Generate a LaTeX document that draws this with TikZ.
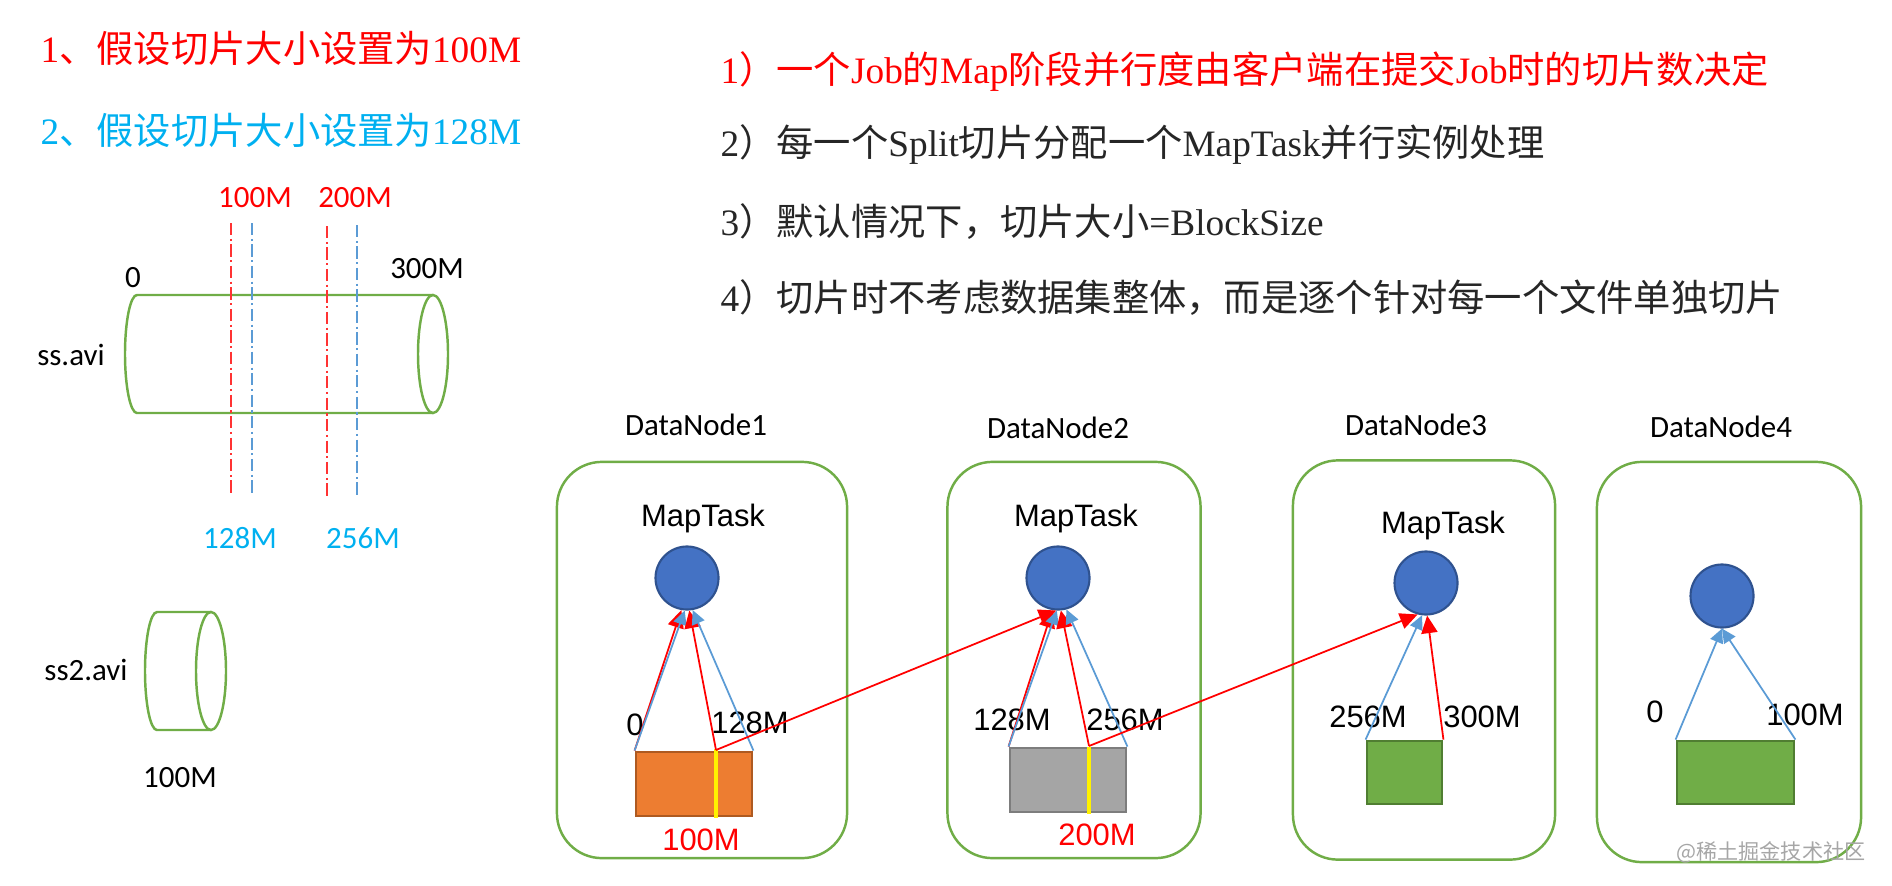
\documentclass[tikz,border=0pt]{standalone}
\usepackage{fontspec}
\setmainfont{Liberation Serif}
\newfontfamily\cjk{Noto Sans CJK SC}
\newfontfamily\cali{Carlito}
\newfontfamily\arial{Liberation Sans}
\usetikzlibrary{arrows.meta}
\definecolor{splitred}{RGB}{255,0,0}
\definecolor{sizeblue}{RGB}{0,176,240}
\definecolor{splitblue}{RGB}{91,155,213}
\definecolor{boxgreen}{RGB}{112,173,71}
\definecolor{taskblue}{RGB}{68,114,196}
\definecolor{taskedge}{RGB}{47,82,143}
\definecolor{blockorange}{RGB}{237,125,49}
\definecolor{orangeedge}{RGB}{174,90,33}
\definecolor{blockgray}{RGB}{165,165,165}
\definecolor{grayedge}{RGB}{125,125,125}
\definecolor{greenedge}{RGB}{80,126,50}
\newcommand{\zh}[1]{{\cjk #1}}
\tikzset{
  titletext/.style={anchor=west, inner sep=0pt, font=\fontsize{10.6}{12}\selectfont},
  lbl/.style={inner sep=0pt, text depth=0pt, font=\cali\fontsize{8.8}{10}\selectfont},
  arlbl/.style={inner sep=0pt, text depth=0pt, font=\arial\fontsize{8.8}{10}\selectfont},
  dnbox/.style={rectangle, rounded corners=0.45cm, draw=boxgreen, line width=0.7pt},
  taskcircle/.style={circle, draw=taskedge, fill=taskblue, minimum size=0.63cm, inner sep=0pt, line width=0.6pt},
  blockbox/.style={rectangle, line width=0.8pt, minimum height=0.64cm, inner sep=0pt},
  redarrow/.style={-{Triangle[length=5pt,width=4.6pt]}, draw=splitred, line width=0.5pt},
  bluearrow/.style={-{Triangle[length=4pt,width=3.8pt]}, draw=splitblue, line width=0.5pt},
  cutline/.style={draw=yellow, line width=1pt},
  cylline/.style={draw=boxgreen, line width=0.7pt},
  redcut/.style={draw=splitred!80, line width=0.3pt, dash pattern=on 3.5pt off 1pt on 0.6pt off 1pt},
  bluecut/.style={draw=splitblue, line width=0.3pt, dash pattern=on 3.5pt off 1pt on 0.6pt off 1pt}
}

\begin{document}
\begin{tikzpicture}[x=0.01cm, y=-0.01cm]
  \useasboundingbox (0,0) rectangle (1892,885);

  \node[titletext, text=splitred] (hint1) at (40,48) {1\zh{、假设切片大小设置为}100M};
  \node[titletext, text=sizeblue] (hint2) at (40,130) {2\zh{、假设切片大小设置为}128M};

  \node[titletext, text=splitred] (rule1) at (720,72) {1\zh{）一个}Job\zh{的}Map\zh{阶段并行度由客户端在提交}Job\zh{时的切片数决定}};
  \node[titletext, text=black!85] (rule2) at (720,145) {2\zh{）每一个}Split\zh{切片分配一个}MapTask\zh{并行实例处理}};
  \node[titletext, text=black!85] (rule3) at (720,222) {3\zh{）默认情况下，切片大小}=BlockSize};
  \node[titletext, text=black!85] (rule4) at (720,298) {4\zh{）切片时不考虑数据集整体，而是逐个针对每一个文件单独切片}};

  % ss.avi
  \draw[cylline] (433,295) -- (137,295) arc[start angle=270, end angle=90, x radius=12, y radius=59] -- (433,413);
  \draw[cylline] (433,354) ellipse[x radius=15, y radius=59];
  \draw[redcut] (231,223) -- (231,495);
  \draw[bluecut] (252,223) -- (252,495);
  \draw[redcut] (327,226) -- (327,498);
  \draw[bluecut] (357,225) -- (357,497);
  \node[lbl] (ssname) at (71,355) {ss.avi};
  \node[lbl] (ssstart) at (133,277) {0};
  \node[lbl] (ssend) at (427,268) {300M};
  \node[lbl, text=splitred] (cut100) at (255,197) {100M};
  \node[lbl, text=splitred] (cut200) at (355,197) {200M};
  \node[lbl, text=sizeblue] (cut128) at (240,538) {128M};
  \node[lbl, text=sizeblue] (cut256) at (363,538) {256M};

  % ss2.avi
  \draw[cylline] (211,612) -- (157,612) arc[start angle=270, end angle=90, x radius=12, y radius=59] -- (211,730);
  \draw[cylline] (211,671) ellipse[x radius=15, y radius=59];
  \node[lbl] (ss2name) at (86,670) {ss2.avi};
  \node[lbl] (ss2size) at (180,777) {100M};

  % datanodes
  \node[dnbox, minimum width=2.90cm, minimum height=3.96cm] (dn1) at (702,660) {};
  \node[dnbox, minimum width=2.53cm, minimum height=3.96cm] (dn2) at (1074,660) {};
  \node[dnbox, minimum width=2.62cm, minimum height=3.99cm] (dn3) at (1424,660) {};
  \node[dnbox, minimum width=2.64cm, minimum height=4.00cm] (dn4) at (1729,662) {};
  \node[lbl] (dn1name) at (696,425) {DataNode1};
  \node[lbl] (dn2name) at (1058,428) {DataNode2};
  \node[lbl] (dn3name) at (1416,425) {DataNode3};
  \node[lbl] (dn4name) at (1721,427) {DataNode4};

  \node[arlbl] (mt1name) at (703,515) {MapTask};
  \node[arlbl] (mt2name) at (1076,515) {MapTask};
  \node[arlbl] (mt3name) at (1443,522) {MapTask};
  \node[taskcircle] (mt1) at (687,578) {};
  \node[taskcircle] (mt2) at (1058,578) {};
  \node[taskcircle] (mt3) at (1426,583) {};
  \node[taskcircle] (mt4) at (1722,596) {};

  \node[blockbox, fill=blockorange, draw=orangeedge, minimum width=1.16cm] (blk1) at (694,784) {};
  \node[blockbox, fill=blockgray, draw=grayedge, minimum width=1.16cm] (blk2) at (1068,780) {};
  \node[blockbox, fill=boxgreen, draw=greenedge, minimum width=0.75cm, minimum height=0.63cm] (blk3) at (1404.5,772.5) {};
  \node[blockbox, fill=boxgreen, draw=greenedge, minimum width=1.17cm, minimum height=0.63cm] (blk4) at (1735.5,772.5) {};
  \coordinate (c1) at (716,750);
  \coordinate (c2) at (1089,746);
  \draw[cutline] (716,749) -- (716,818);
  \draw[cutline] (1089,747) -- (1089,814);

  \node[arlbl] (b1lo) at (635,725) {0};
  \node[arlbl] (b1hi) at (750,723) {128M};
  \node[arlbl, text=splitred] (b1cut) at (701,840) {100M};
  \node[arlbl] (b2lo) at (1012,720) {128M};
  \node[arlbl] (b2hi) at (1125,720) {256M};
  \node[arlbl, text=splitred] (b2cut) at (1097,835) {200M};
  \node[arlbl] (b3lo) at (1368,717) {256M};
  \node[arlbl] (b3hi) at (1482,717) {300M};
  \node[arlbl] (b4lo) at (1655,712) {0};
  \node[arlbl] (b4hi) at (1805,715) {100M};

  \draw[redarrow] (blk1.north west) -- (mt1.-100);
  \draw[bluearrow] (blk1.north west) -- (mt1.-94);
  \draw[redarrow] (c1) -- (mt1.-86);
  \draw[bluearrow] (blk1.north east) -- (mt1.-80);
  \draw[redarrow] (c1) -- (mt2.-93);

  \draw[redarrow] (blk2.north west) -- (mt2.-100);
  \draw[bluearrow] (blk2.north west) -- (mt2.-92);
  \draw[redarrow] (c2) -- (mt2.-85);
  \draw[bluearrow] (blk2.north east) -- (mt2.-75);
  \draw[redarrow] (c2) -- (mt3.-105);

  \draw[bluearrow] (blk3.north west) -- (mt3.-97);
  \draw[redarrow] (blk3.north east) -- (mt3.-88);

  \draw[bluearrow] (blk4.north west) -- (mt4.south);
  \draw[bluearrow] (blk4.north east) -- (mt4.south);

  \node[anchor=east, inner sep=0pt, text=black!35, font=\cjk\fontsize{6}{7}\selectfont] (mark) at (1866,852) {@稀土掘金技术社区};
\end{tikzpicture}
\end{document}
